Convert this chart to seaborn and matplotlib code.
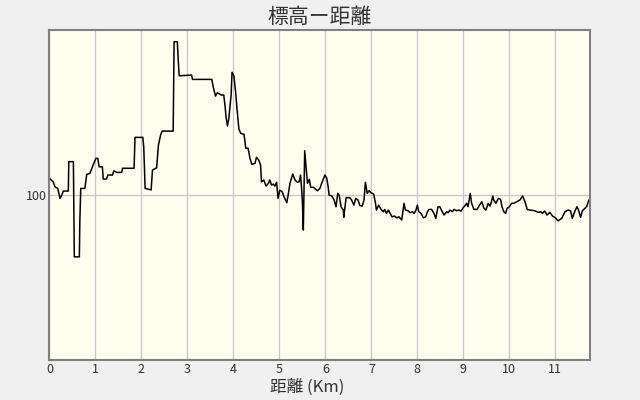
import pandas as pd
import numpy as np
import seaborn as sns
import matplotlib.pyplot as plt

# distance (km) and elevation (m)
distance_km = [
    0.00, 0.08, 0.12, 0.18, 0.23, 0.27, 0.30, 0.41, 0.42, 0.52,
    0.53, 0.54, 0.65, 0.66, 0.68, 0.77, 0.81, 0.88, 0.95, 1.01,
    1.05, 1.08, 1.15, 1.17, 1.24, 1.27, 1.37, 1.40, 1.46, 1.57,
    1.59, 1.84, 1.86, 2.03, 2.05, 2.08, 2.17, 2.21, 2.24, 2.33,
    2.37, 2.42, 2.45, 2.69, 2.71, 2.78, 2.80, 2.82, 3.09, 3.11,
    3.53, 3.56, 3.61, 3.65, 3.74, 3.79, 3.82, 3.84, 3.87, 3.90,
    3.95, 3.97, 4.01, 4.05, 4.08, 4.12, 4.16, 4.23, 4.27, 4.32,
    4.36, 4.40, 4.47, 4.50, 4.55, 4.59, 4.61, 4.66, 4.71, 4.76,
    4.79, 4.83, 4.87, 4.90, 4.94, 4.97, 5.01, 5.06, 5.10, 5.16,
    5.19, 5.23, 5.29, 5.34, 5.39, 5.43, 5.46, 5.48, 5.50, 5.52,
    5.54, 5.55, 5.58, 5.61, 5.65, 5.68, 5.74, 5.79, 5.83, 5.88,
    5.92, 5.99, 6.03, 6.06, 6.08, 6.14, 6.19, 6.23, 6.27, 6.30,
    6.34, 6.39, 6.40, 6.45, 6.53, 6.57, 6.62, 6.66, 6.71, 6.75,
    6.80, 6.84, 6.87, 6.91, 6.95, 6.99, 7.05, 7.09, 7.11, 7.16,
    7.21, 7.26, 7.29, 7.33, 7.37, 7.40, 7.45, 7.50, 7.55, 7.60,
    7.66, 7.71, 7.74, 7.80, 7.84, 7.89, 7.93, 7.97, 8.00, 8.03,
    8.08, 8.13, 8.18, 8.22, 8.25, 8.31, 8.36, 8.40, 8.45, 8.49,
    8.53, 8.58, 8.64, 8.67, 8.71, 8.76, 8.80, 8.85, 8.90, 8.95,
    9.00, 9.03, 9.07, 9.10, 9.15, 9.18, 9.23, 9.30, 9.34, 9.40,
    9.45, 9.49, 9.54, 9.58, 9.61, 9.64, 9.66, 9.71, 9.76, 9.81,
    9.84, 9.88, 9.92, 9.95, 10.00, 10.05, 10.10, 10.16, 10.23, 10.29,
    10.34, 10.39, 10.45, 10.55, 10.63, 10.68, 10.72, 10.77, 10.82, 10.88,
    10.94, 11.01, 11.06, 11.14, 11.21, 11.28, 11.33, 11.37, 11.42, 11.47,
    11.50, 11.55, 11.59, 11.64, 11.68, 11.73,
]
elevation_m = [
    110.2, 108.1, 105.1, 104.1, 98.1, 100.1, 102.5, 102.5, 120.3, 120.3,
    92.2, 62.7, 62.7, 83.9, 104.1, 104.1, 112.6, 113.2, 118.3, 122.3,
    122.3, 117.2, 117.2, 109.8, 109.8, 112.2, 112.2, 114.8, 113.8, 113.8,
    116.3, 116.3, 135.0, 135.0, 129.3, 104.1, 103.5, 103.1, 115.2, 116.6,
    130.4, 136.8, 138.8, 138.8, 192.9, 192.9, 181.8, 172.3, 172.7, 170.1,
    170.1, 165.7, 160.0, 162.0, 160.6, 160.6, 153.6, 147.1, 141.9, 146.5,
    160.6, 174.4, 172.3, 162.0, 151.6, 139.9, 137.4, 136.8, 128.4, 128.4,
    122.3, 118.7, 119.3, 122.9, 121.3, 118.3, 108.1, 109.2, 105.5, 107.2,
    109.2, 106.1, 106.7, 105.5, 107.8, 98.1, 103.1, 102.1, 99.1, 95.4,
    100.1, 107.2, 112.8, 109.2, 107.8, 108.1, 112.2, 105.1, 96.0, 78.9,
    111.2, 126.9, 117.2, 107.2, 109.6, 104.8, 104.8, 103.5, 102.7, 104.1,
    107.2, 112.2, 110.2, 105.1, 100.1, 99.5, 97.1, 93.0, 101.1, 100.1,
    93.0, 91.0, 86.6, 98.5, 98.5, 97.1, 94.0, 98.1, 97.1, 93.7,
    93.4, 97.1, 107.8, 101.1, 102.7, 101.5, 100.7, 95.1, 91.0, 94.0,
    91.4, 90.0, 91.4, 89.0, 91.0, 89.4, 86.9, 87.4, 86.3, 86.9,
    85.0, 95.1, 91.0, 90.6, 89.4, 90.0, 89.0, 91.0, 94.0, 90.0,
    89.0, 86.3, 86.9, 90.0, 91.4, 91.4, 89.0, 86.0, 93.0, 93.0,
    90.6, 88.0, 90.0, 89.4, 91.0, 90.0, 91.4, 90.6, 91.0, 90.4,
    92.6, 93.4, 95.1, 93.0, 101.1, 95.1, 91.4, 91.4, 93.4, 96.0,
    92.0, 91.0, 95.1, 93.4, 96.0, 99.5, 97.1, 95.1, 98.1, 97.5,
    93.0, 90.0, 89.0, 92.0, 93.0, 95.1, 95.1, 96.0, 97.1, 99.5,
    96.0, 91.4, 91.0, 90.6, 89.6, 90.0, 89.0, 90.4, 88.0, 89.6,
    87.4, 86.0, 84.5, 86.0, 90.0, 91.0, 90.6, 86.0, 90.0, 93.0,
    91.4, 86.6, 90.6, 92.0, 93.0, 97.1,
]
x_ticks = list(range(0, 12))
y_ticks = [100]

df = pd.DataFrame({'distance': distance_km, 'elevation': elevation_m})

sns.set_style('white')
plt.rcParams['font.family'] = ['Noto Sans CJK JP', 'DejaVu Sans']

fig = plt.figure(figsize=(6.4, 4.0), dpi=100, facecolor='#F0F0F0')
ax = fig.add_axes([0.0773, 0.099, 0.845, 0.826])
ax.set_facecolor('#FFFFF0')

sns.lineplot(data=df, x='distance', y='elevation', ax=ax, color='black',
             linewidth=1.1, estimator=None, sort=False)

ax.set_xlim(0, 11.76)
ax.set_ylim(0, 200)
ax.set_xticks(x_ticks)
ax.set_yticks(y_ticks)
ax.grid(True, color='#C8C8C8', linewidth=1)
ax.set_axisbelow(True)
ax.tick_params(length=0, labelsize=9, colors='#333333', pad=2)
for s in ax.spines.values():
    s.set_color('#808080')
    s.set_linewidth(1.5)

ax.set_title('標高ー距離', fontsize=15, color='#333333', pad=5)
ax.set_xlabel('距離 (Km)', fontsize=12, color='#333333')
ax.xaxis.set_label_coords(0.477, -0.054)
ax.set_ylabel('')

fig.savefig('out.png', dpi=100, facecolor=fig.get_facecolor())
